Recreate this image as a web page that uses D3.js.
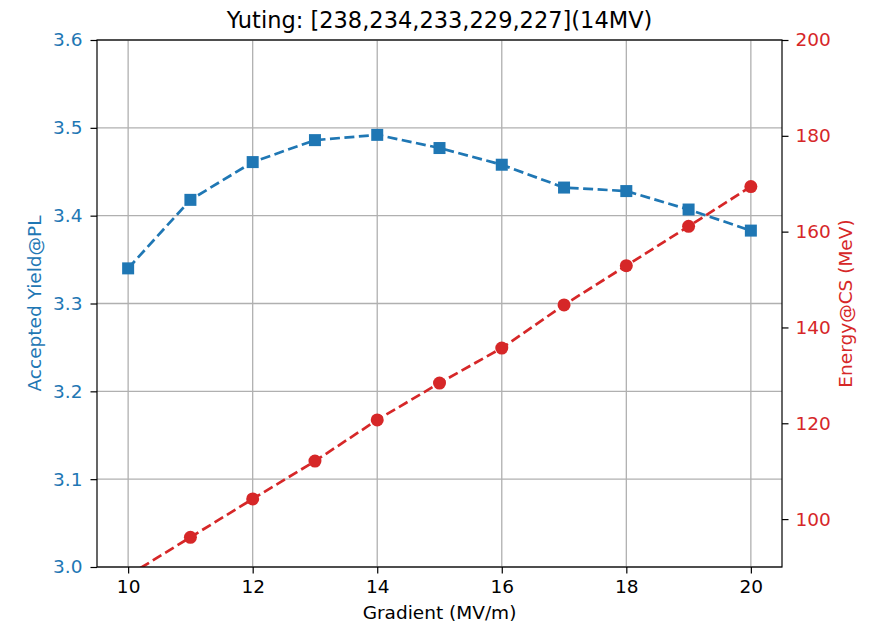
<!DOCTYPE html>
<html>
<head>
<meta charset="utf-8">
<script src="https://cdn.jsdelivr.net/npm/d3@7"></script>
<style>
  body { margin: 0; background: #fff; }
  svg { font-family: "DejaVu Sans", sans-serif; }
</style>
</head>
<body>
<svg id="chart" width="873" height="624"></svg>
<script>
const gradient = [10, 11, 12, 13, 14, 15, 16, 17, 18, 19, 20];
const yieldPL = [3.340, 3.418, 3.461, 3.486, 3.492, 3.477, 3.458, 3.432, 3.428, 3.407, 3.383];
const energyCS = [88.2, 96.2, 104.2, 112.1, 120.7, 128.4, 135.7, 144.7, 152.9, 161.1, 169.4];
const xTicks = [10, 12, 14, 16, 18, 20];
const yieldTicks = [3.0, 3.1, 3.2, 3.3, 3.4, 3.5, 3.6];
const energyTicks = [100, 120, 140, 160, 180, 200];
const titleText = "Yuting: [238,234,233,229,227](14MV)";

const blue = "#1f77b4", red = "#d62728";
const margin = {left: 97, right: 91, top: 40, bottom: 57};
const width = 873 - margin.left - margin.right;
const height = 624 - margin.top - margin.bottom;

const svg = d3.select("#chart");
const g = svg.append("g").attr("transform", `translate(${margin.left},${margin.top})`);

const x = d3.scaleLinear().domain([9.5, 20.5]).range([0, width]);
const yL = d3.scaleLinear().domain([3.0, 3.6]).range([height, 0]);
const yR = d3.scaleLinear().domain([90, 200]).range([height, 0]);

svg.append("defs").append("clipPath").attr("id", "plot-clip")
  .append("rect").attr("width", width).attr("height", height);

// grid
g.append("g").selectAll("line").data(xTicks).join("line")
  .attr("x1", d => x(d)).attr("x2", d => x(d))
  .attr("y1", 0).attr("y2", height)
  .attr("stroke", "#b0b0b0").attr("stroke-width", 1.3);
g.append("g").selectAll("line").data(yieldTicks).join("line")
  .attr("x1", 0).attr("x2", width)
  .attr("y1", d => yL(d)).attr("y2", d => yL(d))
  .attr("stroke", "#b0b0b0").attr("stroke-width", 1.3);

// axes
const fs = "18.5px";
const xAxis = g.append("g").attr("transform", `translate(0,${height})`)
  .call(d3.axisBottom(x).tickValues(xTicks).tickSize(6.5).tickPadding(6).tickFormat(d3.format("d")));
const lAxis = g.append("g")
  .call(d3.axisLeft(yL).tickValues(yieldTicks).tickSize(6.5).tickPadding(8).tickFormat(d3.format(".1f")));
const rAxis = g.append("g").attr("transform", `translate(${width},0)`)
  .call(d3.axisRight(yR).tickValues(energyTicks).tickSize(6.5).tickPadding(7).tickFormat(d3.format("d")));

[xAxis, lAxis, rAxis].forEach(a => {
  a.select(".domain").remove();
  a.selectAll("line").attr("stroke", "#000").attr("stroke-width", 1.2);
  a.selectAll("text").style("font-size", fs).attr("font-family", "DejaVu Sans");
});
xAxis.selectAll("text").attr("fill", "#000");
lAxis.selectAll("text").attr("fill", blue);
rAxis.selectAll("text").attr("fill", red);

// blue series
const lineL = d3.line().x((d, i) => x(gradient[i])).y(d => yL(d));
g.append("path").attr("d", lineL(yieldPL))
  .attr("fill", "none").attr("stroke", blue).attr("stroke-width", 2.7)
  .attr("stroke-dasharray", "10,4.5");
g.append("g").selectAll("rect").data(yieldPL).join("rect")
  .attr("x", (d, i) => x(gradient[i]) - 6).attr("y", d => yL(d) - 6)
  .attr("width", 12).attr("height", 12).attr("fill", blue);

// red series on twin axis
const plotR = g.append("g").attr("clip-path", "url(#plot-clip)");
const lineR = d3.line().x((d, i) => x(gradient[i])).y(d => yR(d));
plotR.append("path").attr("d", lineR(energyCS))
  .attr("fill", "none").attr("stroke", red).attr("stroke-width", 2.7)
  .attr("stroke-dasharray", "10,4.5");
plotR.append("g").selectAll("circle").data(energyCS).join("circle")
  .attr("cx", (d, i) => x(gradient[i])).attr("cy", d => yR(d))
  .attr("r", 6.5).attr("fill", red);

// spines
g.append("rect").attr("width", width).attr("height", height)
  .attr("fill", "none").attr("stroke", "#000").attr("stroke-width", 1.2);

// labels
g.append("text").attr("x", width / 2).attr("y", height + 52)
  .attr("text-anchor", "middle").style("font-size", fs).text("Gradient (MV/m)");
g.append("text").attr("transform", `translate(-56.5,${height / 2}) rotate(-90)`)
  .attr("text-anchor", "middle").attr("fill", blue).style("font-size", fs).text("Accepted Yield@PL");
g.append("text").attr("transform", `translate(${width + 70},${height / 2}) rotate(-90)`)
  .attr("text-anchor", "middle").attr("fill", red).style("font-size", fs).text("Energy@CS (MeV)");
g.append("text").attr("x", width / 2).attr("y", -12)
  .attr("text-anchor", "middle").style("font-size", "22.5px").text(titleText);
</script>
</body>
</html>
